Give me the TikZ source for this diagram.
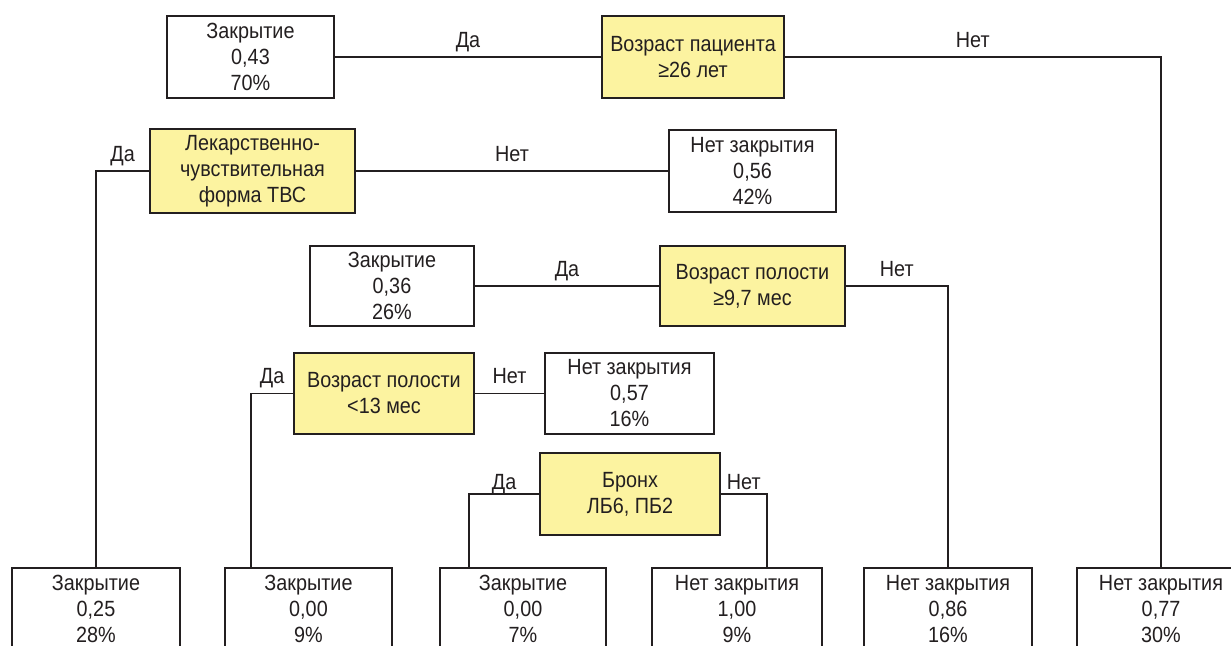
\documentclass[tikz,border=0pt]{standalone}
\usepackage{fontspec}
\setmainfont{Liberation Sans}[FakeStretch=0.9]
\definecolor{boxyellow}{RGB}{252,243,160}
\definecolor{ink}{RGB}{35,31,32}
\begin{document}
\begin{tikzpicture}[x=1pt,y=-1pt,
  every node/.style={font=\fontsize{22}{26}\selectfont, text=ink},
  box/.style={draw=ink, line width=1.2pt, fill=white, inner sep=0pt, align=center, minimum height=82pt},
  cond/.style={box, fill=boxyellow},
  conn/.style={draw=ink, line width=1.2pt},
  lab/.style={inner sep=0pt, text height=16pt, text depth=0pt, yshift=18pt},
  labl/.style={lab, yshift=-5pt}]
\useasboundingbox (0,0) rectangle (1231,645);
\clip (0,0) rectangle (1231,645);
\fill[white] (0,0) rectangle (1231,645);
% nodes
\node[box, minimum width=167pt] (A) at (250.5,57) {Закрытие\\0,43\\70\%};
\node[cond, minimum width=182pt] (B) at (693,57) {Возраст пациента\\≥26 лет};
\node[cond, minimum width=205pt, minimum height=84pt] (C) at (252.5,171) {Лекарственно-\\чувствительная\\форма ТВС};
\node[box, minimum width=167pt] (D) at (752.5,171) {Нет закрытия\\0,56\\42\%};
\node[box, minimum width=164pt, minimum height=80pt] (E) at (392,286) {Закрытие\\0,36\\26\%};
\node[cond, minimum width=185pt, minimum height=80pt] (F) at (752.5,286) {Возраст полости\\≥9,7 мес};
\node[cond, minimum width=180pt, minimum height=81pt] (G) at (384,393.5) {Возраст полости\\<13 мес};
\node[box, minimum width=169pt, minimum height=81pt] (H) at (629.5,393.5) {Нет закрытия\\0,57\\16\%};
\node[cond, minimum width=180pt] (I) at (630,494) {Бронх\\ЛБ6, ПБ2};
\node[box, minimum width=168pt] (L1) at (96,609) {Закрытие\\0,25\\28\%};
\node[box, minimum width=167pt] (L2) at (308.5,609) {Закрытие\\0,00\\9\%};
\node[box, minimum width=166pt] (L3) at (523,609) {Закрытие\\0,00\\7\%};
\node[box, minimum width=170pt] (L4) at (737,609) {Нет закрытия\\1,00\\9\%};
\node[box, minimum width=168pt] (L5) at (948,609) {Нет закрытия\\0,86\\16\%};
\node[box, minimum width=168pt] (L6) at (1161,609) {Нет закрытия\\0,77\\30\%};
% bend points
\coordinate (gL) at (251,393.5);
\coordinate (iL) at (469,494);
\coordinate (iR) at (767,494);
% connectors
\draw[conn] (A.east) -- node[lab]{Да} (B.west);
\draw[conn] (B.east) -| node[lab,pos=0.25]{Нет} (L6.north);
\draw[conn] (C.west) -| node[lab,pos=0.25]{Да} (L1.north);
\draw[conn] (C.east) -- node[lab]{Нет} (D.west);
\draw[conn] (E.east) -- node[lab]{Да} (F.west);
\draw[conn] (F.east) -| node[lab,pos=0.25]{Нет} (L5.north);
\draw[conn] (G.west) -- node[lab]{Да} (gL) -- (gL |- L2.north);
\draw[conn] (G.east) -- node[lab]{Нет} (H.west);
\draw[conn] (I.west) -- node[labl]{Да} (iL) -- (iL |- L3.north);
\draw[conn] (I.east) -- node[labl]{Нет} (iR) -- (iR |- L4.north);
\end{tikzpicture}
\end{document}
